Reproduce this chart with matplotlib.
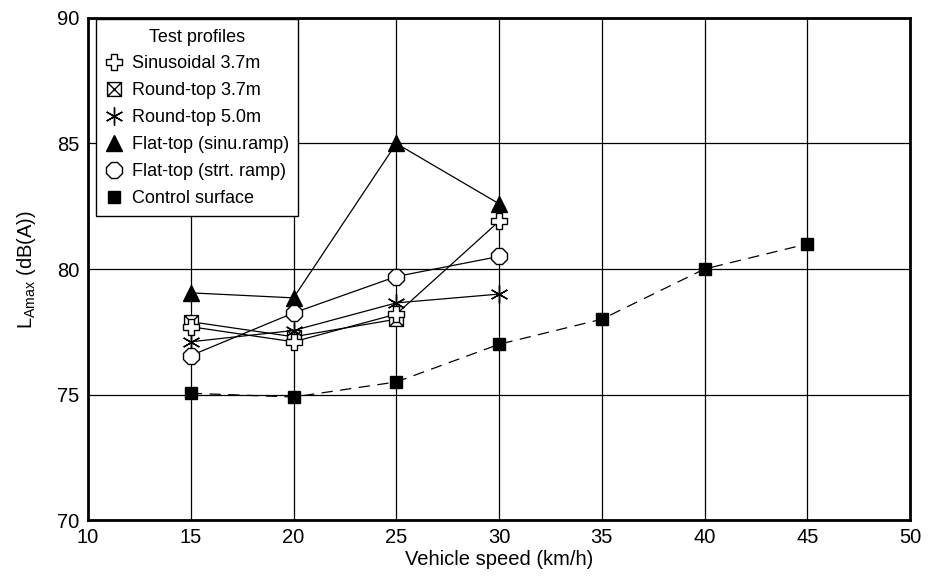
import matplotlib
matplotlib.use("Agg")
import matplotlib.pyplot as plt
from matplotlib.path import Path

plt.rcParams['font.family'] = ['Liberation Sans', 'DejaVu Sans']
plt.rcParams['mathtext.fontset'] = 'custom'
plt.rcParams['mathtext.rm'] = 'Liberation Sans'

speed_test = [15, 20, 25, 30]
sinusoidal_37 = [77.7, 77.1, 78.2, 81.9]
roundtop_37_speed = [15, 20, 25]
roundtop_37 = [77.9, 77.3, 78.0]
roundtop_50 = [77.1, 77.55, 78.65, 79.0]
flattop_sinu = [79.05, 78.85, 85.0, 82.6]
flattop_strt = [76.55, 78.25, 79.7, 80.5]
control_speed = [15, 20, 25, 30, 35, 40, 45]
control = [75.05, 74.9, 75.5, 77.0, 78.0, 80.0, 81.0]

xticks = [10, 15, 20, 25, 30, 35, 40, 45, 50]
yticks = [70, 75, 80, 85, 90]

# square with X marker
box_x = Path(
    [(-1, -1), (1, -1), (1, 1), (-1, 1), (-1, -1),
     (-1, -1), (1, 1), (-1, 1), (1, -1)],
    [Path.MOVETO, Path.LINETO, Path.LINETO, Path.LINETO, Path.CLOSEPOLY,
     Path.MOVETO, Path.LINETO, Path.MOVETO, Path.LINETO])

fig = plt.figure(figsize=(9.3, 5.78), dpi=100)
ax = fig.add_axes([0.0946, 0.1003, 0.884, 0.8686])

lw = 0.9
ax.plot(speed_test, sinusoidal_37, color='k', lw=lw, marker='P', ms=11,
        mfc='white', mec='k', mew=1.0, label='Sinusoidal 3.7m', zorder=5)
ax.plot(roundtop_37_speed, roundtop_37, color='k', lw=lw, marker=box_x, ms=10,
        mfc='white', mec='k', mew=1.0, label='Round-top 3.7m', zorder=4)
ax.plot(speed_test, roundtop_50, color='k', lw=lw, marker=(6, 2, 0), ms=13,
        mfc='white', mec='k', mew=1.0, label='Round-top 5.0m', zorder=4)
ax.plot(speed_test, flattop_sinu, color='k', lw=lw, marker='^', ms=12,
        mfc='k', mec='k', label='Flat-top (sinu.ramp)', zorder=4)
ax.plot(speed_test, flattop_strt, color='k', lw=lw, marker='8', ms=12,
        mfc='white', mec='k', mew=1.0, label='Flat-top (strt. ramp)', zorder=4)
ax.plot(control_speed, control, color='k', lw=lw, ls=(0, (9, 6)), marker='s', ms=8,
        mfc='k', mec='k', label='Control surface', zorder=4)

ax.set_xlim(10, 50)
ax.set_ylim(70, 90)
ax.set_xticks(xticks)
ax.set_yticks(yticks)
ax.grid(True, color='k', lw=0.9)
ax.set_axisbelow(True)
ax.tick_params(length=0, labelsize=14.5, pad=6)
for s in ax.spines.values():
    s.set_linewidth(2)

ax.set_xlabel('Vehicle speed (km/h)', fontsize=14.5, labelpad=2)
ax.set_ylabel(r'L$_{\mathregular{Amax}}$ (dB(A))', fontsize=14.5, labelpad=14)

leg = ax.legend(loc='upper left', title='Test profiles', fontsize=13,
                title_fontsize=13, frameon=True, fancybox=False,
                bbox_to_anchor=(0.01, 0.997), borderaxespad=0.0,
                handlelength=1.0, handletextpad=0.5,
                labelspacing=0.55, borderpad=0.5)
leg.get_frame().set_edgecolor('k')
leg.get_frame().set_linewidth(1.0)
leg.get_frame().set_alpha(1)
for h in leg.legend_handles:
    h.set_linestyle('none')

fig.savefig('out.png', dpi=100)
